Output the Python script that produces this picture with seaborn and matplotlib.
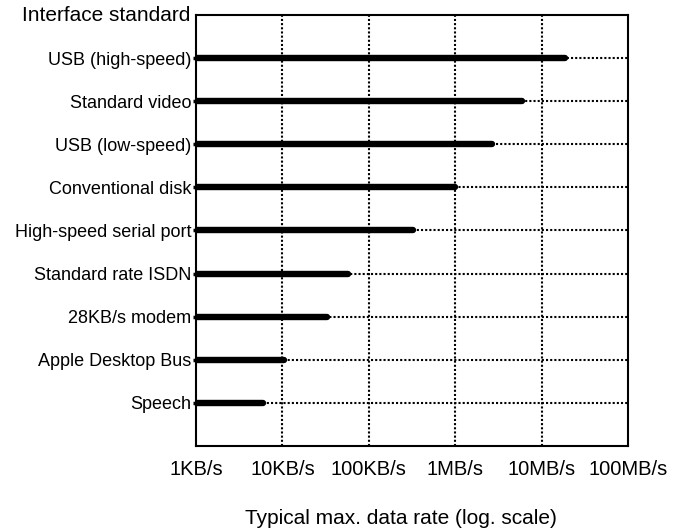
import matplotlib
matplotlib.use("Agg")
import matplotlib.pyplot as plt
import numpy as np
import pandas as pd
import seaborn as sns

# values in KB/s
interfaces = ["USB (high-speed)", "Standard video", "USB (low-speed)", "Conventional disk",
              "High-speed serial port", "Standard rate ISDN", "28KB/s modem",
              "Apple Desktop Bus", "Speech"]
rates_kb = [18700, 5900, 2650, 1000, 327, 58, 32.6, 10.4, 6.0]

tick_vals = [1, 10, 100, 1000, 10000, 100000]
tick_labels = ["1KB/s", "10KB/s", "100KB/s", "1MB/s", "10MB/s", "100MB/s"]

df = pd.DataFrame({"interface": interfaces, "rate": rates_kb})
df["pos"] = np.arange(len(df))

sns.set_style("white", {"text.color": "black", "xtick.color": "black",
                        "ytick.color": "black", "axes.labelcolor": "black"})
plt.rcParams["font.family"] = ["Liberation Sans", "DejaVu Sans"]

fig = plt.figure(figsize=(6.74, 5.32), dpi=100)
ax = fig.add_axes([0.2908, 0.1617, 0.641, 0.8101])

ax.set_xscale("log")
ax.set_xlim(1, 100000)
ax.set_ylim(len(df), -1)

# dotted grid
for v in tick_vals[1:-1]:
    ax.axvline(v, color="black", linestyle=(0, (1, 1)), lw=1.5, zorder=1)
for p in df["pos"]:
    ax.axhline(p, color="black", linestyle=(0, (1, 1)), lw=1.5, zorder=1)

lc = ax.hlines(df["pos"], 1, df["rate"], color="black", lw=4.6, zorder=3)
lc.set_capstyle("round")

ax.set_xticks(tick_vals)
ax.set_xticklabels(tick_labels, fontsize=14.5)
ax.minorticks_off()
ax.set_yticks(df["pos"])
ax.set_yticklabels(df["interface"], fontsize=13)
ax.tick_params(axis="x", length=0, pad=10)
ax.tick_params(axis="y", length=2.5, width=2.5, pad=1, left=True, direction="out")

for s in ax.spines.values():
    s.set_color("black")
    s.set_linewidth(1.5)

ax.text(-0.012, 1.0, "Interface standard", transform=ax.transAxes,
        ha="right", va="center", fontsize=15)
ax.set_xlabel("Typical max. data rate (log. scale)", fontsize=15, labelpad=22, x=0.475)

fig.savefig("out.png", dpi=100)
